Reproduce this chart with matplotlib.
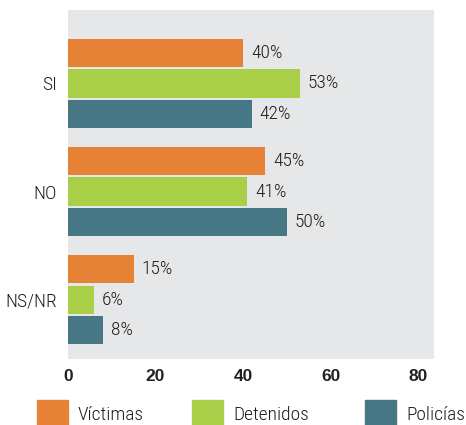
import matplotlib
matplotlib.use("Agg")
import matplotlib.pyplot as plt
import matplotlib.patches as patches
import numpy as np
from matplotlib import font_manager

# data
categories = ["SI", "NO", "NS/NR"]
series = ["Víctimas", "Detenidos", "Policías"]
victimas = [40, 45, 15]
detenidos = [53, 41, 6]
policias = [42, 50, 8]
colors = ["#E58236", "#A9CE47", "#477684"]
xticks = [0, 20, 40, 60, 80]

names = {f.name for f in font_manager.fontManager.ttflist}
narrow = "Liberation Sans"
for cand in ["Liberation Sans Narrow", "Roboto Condensed", "Open Sans Condensed"]:
    if cand in names:
        narrow = cand
        break
wt = "light"
txt_col = "#1e1e1e"

fig = plt.figure(figsize=(4.66, 4.25), dpi=100)
ax = fig.add_axes([68/466, 66/425, 366/466, 349/425])
ax.set_facecolor("#E6E7E8")

y = np.arange(len(categories))
step = 0.28
h = 0.26
for i, (vals, col) in enumerate(zip([victimas, detenidos, policias], colors)):
    pos = y + (i - 1) * step
    ax.barh(pos, vals, height=h, color=col)
    for p, v in zip(pos, vals):
        ax.text(v + 1.8, p, f"{v}%", va="center", ha="left",
                fontsize=14, color=txt_col, family=narrow, fontweight=wt)

ax.set_xlim(0, 83.6)
ax.set_ylim(2.55, -0.68)
ax.set_yticks(y)
ax.set_yticklabels(categories, fontsize=14, color=txt_col, family=narrow,
                   fontweight=wt)
ax.set_xticks(xticks)
ax.set_xticklabels([str(t) for t in xticks], fontsize=12.5, fontweight="bold",
                   color="#222222", family="Liberation Sans")
ax.tick_params(length=0, pad=8)
ax.tick_params(axis="x", pad=7)
for s in ax.spines.values():
    s.set_visible(False)

# legend along the bottom
leg_x = [37, 192, 365]
for lx, name, col in zip(leg_x, series, colors):
    fig.add_artist(patches.Rectangle((lx/466, 0), 31/466, 25/425,
                                     transform=fig.transFigure, color=col))
    fig.text((lx + 41)/466, 1/425, name, fontsize=14, color=txt_col,
             family=narrow, fontweight=wt, ha="left", va="bottom")

fig.savefig("out.png", dpi=100)
